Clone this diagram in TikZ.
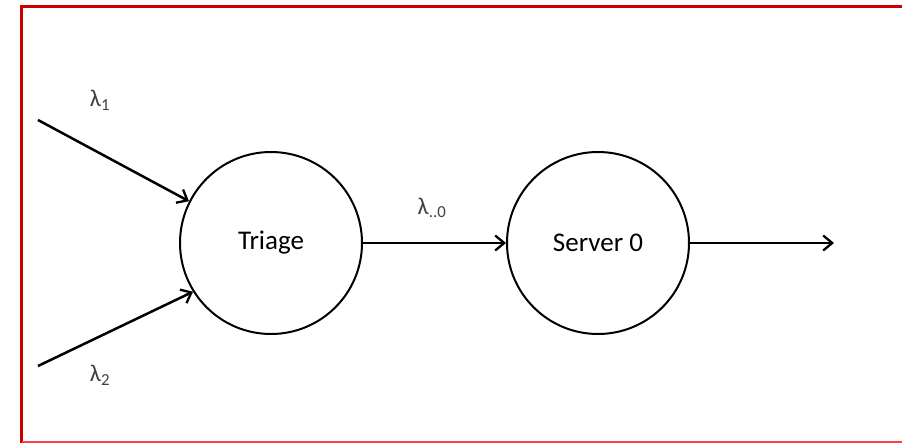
\documentclass[tikz,border=0pt]{standalone}
\usepackage{fontspec}
\setmainfont{Carlito}
\usetikzlibrary{arrows.meta}
\begin{document}
\begin{tikzpicture}[x=1pt,y=-1pt,
  flow/.style={line width=2.5pt,-{Straight Barb[length=9pt,width=15pt,line width=2.3pt]}},
  station/.style={circle,draw,line width=2pt,minimum size=182pt,inner sep=0pt,font=\fontsize{27}{30}\selectfont},
  rate/.style={font=\fontsize{24}{26}\selectfont,text=black!75}]
  \useasboundingbox (0,0) rectangle (902,443);
  % frame
  \draw[draw=red!80!black,line width=3pt] (21.5,443) -- (21.5,6.5) -- (902,6.5);
  \draw[draw=red!75,line width=1.5pt] (21.5,442) -- (902,442);
  % stations
  \node[station] (triage) at (271,243) {Triage};
  \node[station] (server) at (598,243) {Server 0};
  % arrival and exit points
  \coordinate (in1) at (38,120);
  \coordinate (in2) at (38,366);
  \coordinate (out) at (834,243);
  \draw[flow] (in1) -- (triage.153);
  \draw[flow] (in2) -- (triage.-148);
  \draw[flow] (triage) -- (server);
  \draw[flow] (server) -- (out);
  % rate labels
  \node[rate] (l1) at (100,100) {λ\textsubscript{1}};
  \node[rate] (l2) at (100,375) {λ\textsubscript{2}};
  \node[rate] (l0) at (432,208) {λ\textsubscript{..0}};
\end{tikzpicture}
\end{document}
